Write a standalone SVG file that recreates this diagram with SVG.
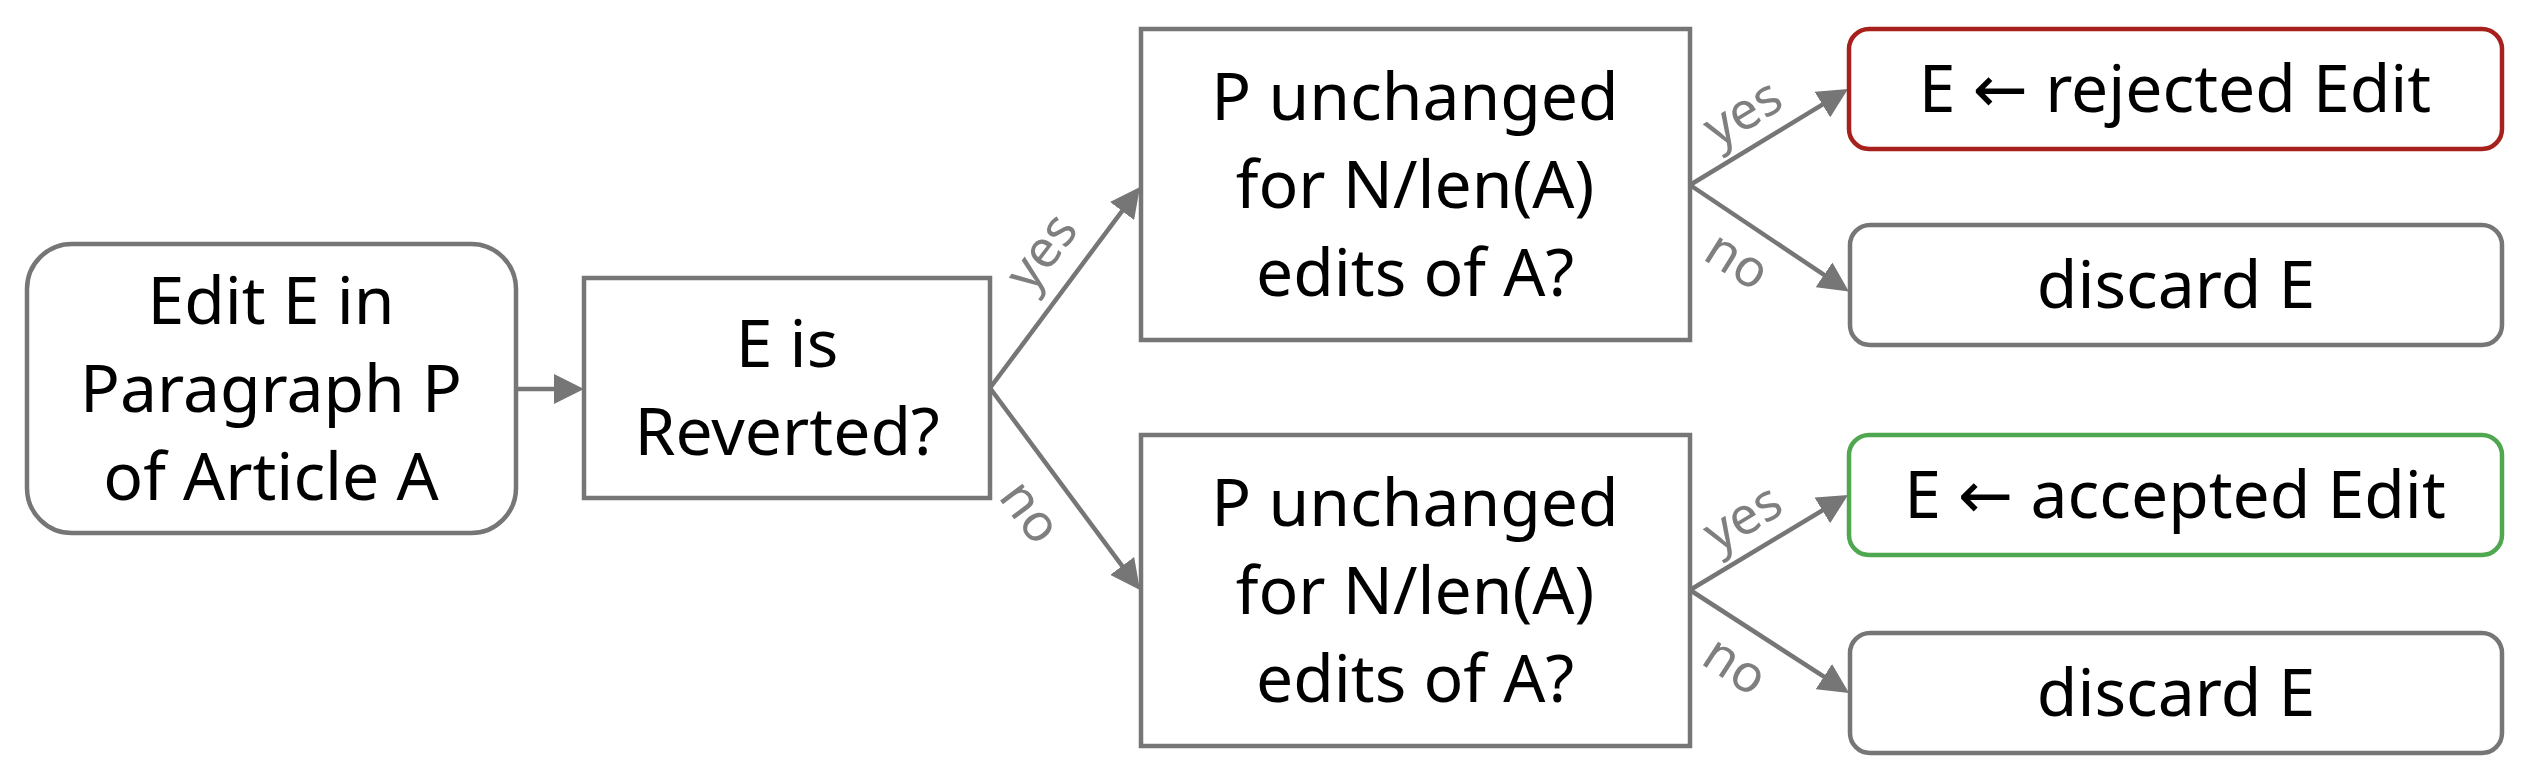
<svg xmlns="http://www.w3.org/2000/svg" width="2538" height="780" viewBox="0 0 2538 780">
<style>
.box{fill:#ffffff;stroke:#767676;stroke-width:4.5}
.red{stroke:#a6211b}
.green{stroke:#4fa84f}
.t{font-family:"Noto Sans","DejaVu Sans",sans-serif;font-size:66px;fill:#000000;text-anchor:middle}
.lbl{font-family:"Noto Sans","DejaVu Sans",sans-serif;font-size:52px;fill:#7f7f7f;text-anchor:middle;dominant-baseline:central}
.c{fill:none;stroke:#767676;stroke-width:4.5}
</style>
<defs>
<marker id="ah" markerUnits="userSpaceOnUse" markerWidth="30" markerHeight="30" refX="24" refY="15" orient="auto" viewBox="0 0 30 30">
<path d="M0,0 L30,15 L0,30 Z" fill="#767676"/>
</marker>
</defs>
<rect width="2538" height="780" fill="#ffffff"/>
<g id="connectors">
<path class="c" d="M516,389 L578,389" marker-end="url(#ah)"/>
<path class="c" d="M990,388 L1136.4,191.8" marker-end="url(#ah)"/>
<path class="c" d="M990,388 L1136.4,585.2" marker-end="url(#ah)"/>
<path class="c" d="M1690,185 L1842.9,92.1" marker-end="url(#ah)"/>
<path class="c" d="M1690,185 L1843.9,288.2" marker-end="url(#ah)"/>
<path class="c" d="M1690,590 L1842.9,498.1" marker-end="url(#ah)"/>
<path class="c" d="M1690,590 L1844,689.7" marker-end="url(#ah)"/>
<text class="lbl" transform="translate(1039,250) rotate(-53)">yes</text>
<text class="lbl" transform="translate(1033,510) rotate(53)">no</text>
<text class="lbl" transform="translate(1741,110) rotate(-31)">yes</text>
<text class="lbl" transform="translate(1739,258) rotate(32)">no</text>
<text class="lbl" transform="translate(1741,515) rotate(-31)">yes</text>
<text class="lbl" transform="translate(1737,663) rotate(33)">no</text>
</g>
<g id="n-edit">
<rect class="box" x="27" y="244" width="489" height="289" rx="45" ry="45"/>
<text class="t" x="271" y="324">Edit E in</text>
<text class="t" x="271" y="412">Paragraph P</text>
<text class="t" x="271" y="500">of Article A</text>
</g>
<g id="n-reverted">
<rect class="box" x="584" y="278" width="406" height="220"/>
<text class="t" x="787" y="367">E is</text>
<text class="t" x="787" y="455">Reverted?</text>
</g>
<g id="n-dec-top">
<rect class="box" x="1141" y="29" width="549" height="311"/>
<text class="t" x="1415" y="120">P unchanged</text>
<text class="t" x="1415" y="208">for N/len(A)</text>
<text class="t" x="1415" y="296">edits of A?</text>
</g>
<g id="n-dec-bottom">
<rect class="box" x="1141" y="435" width="549" height="311"/>
<text class="t" x="1415" y="526">P unchanged</text>
<text class="t" x="1415" y="614">for N/len(A)</text>
<text class="t" x="1415" y="702">edits of A?</text>
</g>
<g id="n-rejected">
<rect class="box red" x="1849" y="29" width="653" height="120" rx="20" ry="20"/>
<text class="t" x="2175" y="112">E ← rejected Edit</text>
</g>
<g id="n-discard-top">
<rect class="box" x="1850" y="225" width="652" height="120" rx="20" ry="20"/>
<text class="t" x="2176" y="308">discard E</text>
</g>
<g id="n-accepted">
<rect class="box green" x="1849" y="435" width="653" height="120" rx="20" ry="20"/>
<text class="t" x="2175" y="518">E ← accepted Edit</text>
</g>
<g id="n-discard-bottom">
<rect class="box" x="1850" y="633" width="652" height="120" rx="20" ry="20"/>
<text class="t" x="2176" y="716">discard E</text>
</g>
</svg>
